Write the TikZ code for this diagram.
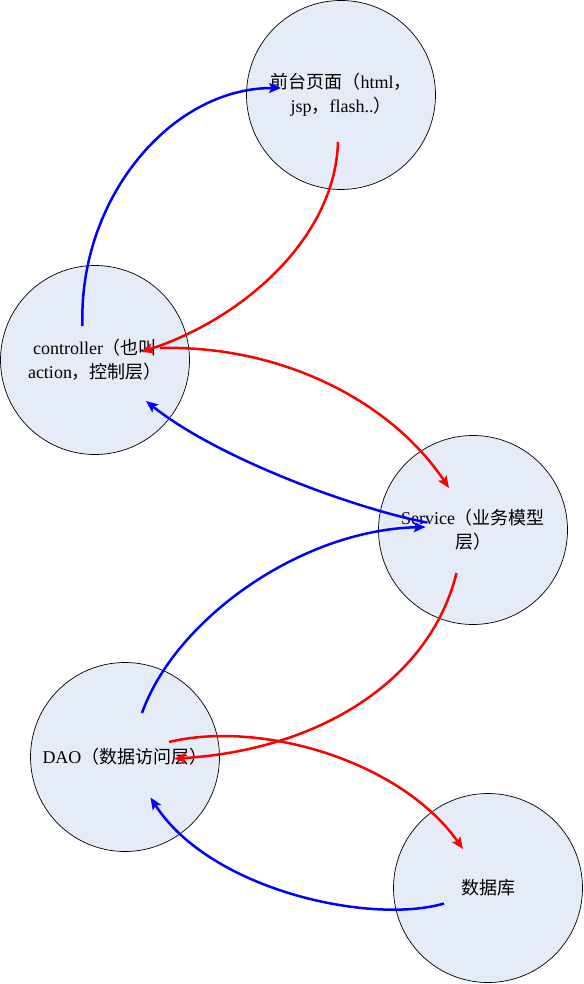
\documentclass[tikz,border=0pt]{standalone}
\usepackage{fontspec}
\setmainfont{Liberation Serif}
\newfontfamily\cjk{Noto Sans CJK SC}
\newcommand{\zh}[1]{{\cjk #1}}
\usetikzlibrary{arrows.meta}
\definecolor{tierfill}{RGB}{230,236,247}
\begin{document}
\begin{tikzpicture}[x=1pt,y=-1pt,
  tier/.style={circle,draw=black,line width=0.7pt,fill=tierfill,minimum size=189pt,inner sep=0pt,align=center,font=\fontsize{18}{24}\selectfont},
  req/.style={blue,line width=2.5pt,-{Stealth[length=12pt,width=10pt,inset=2.5pt]}},
  resp/.style={red,line width=2.5pt,-{Stealth[length=12pt,width=10pt,inset=2.5pt]}}]
  \useasboundingbox (0,0) rectangle (583,984);
  \node[tier] (front) at (341,95) {\zh{前台页面（}html\zh{，}\\jsp\zh{，}flash..\zh{）}};
  \node[tier] (ctrl) at (95,360) {controller\zh{（也叫}\\action\zh{，控制层）}};
  \node[tier] (svc) at (473,530) {Service\zh{（业务模型}\\\zh{层）}};
  \node[tier] (dao) at (125,757) {DAO\zh{（数据访问层）}};
  \node[tier] (db) at (488,888) {\zh{数据库}};
  \draw[req] ([shift={(-12.5,-34)}]ctrl.center) .. controls +(-4.5,-126) and +(-111,0) .. ([shift={(-60,-7)}]front.center);
  \draw[resp] ([shift={(-3,47)}]front.center) .. controls +(-3,98) and +(99,-32) .. ([shift={(46,-8)}]ctrl.center);
  \draw[resp] ([shift={(65,-12)}]ctrl.center) .. controls +(120,-3) and +(-59,-88) .. ([shift={(-24,-42)}]svc.center);
  \draw[req] ([shift={(-45.5,-7.4)}]svc.center) .. controls +(-67.5,-12.6) and +(74,59) .. ([shift={(51,41)}]ctrl.center);
  \draw[req] ([shift={(17,-44)}]dao.center) .. controls +(33,-93) and +(-125.6,3) .. ([shift={(-47.4,-3)}]svc.center);
  \draw[resp] ([shift={(-16.5,43)}]svc.center) .. controls +(-26.5,107) and +(146,-8.6) .. ([shift={(49,1.6)}]dao.center);
  \draw[resp] ([shift={(44,-15)}]dao.center) .. controls +(91,-22) and +(-63,-89) .. ([shift={(-25,-39)}]db.center);
  \draw[req] ([shift={(-44,15.5)}]db.center) .. controls +(-74,21.5) and +(59.5,92.5) .. ([shift={(25.5,40.5)}]dao.center);
\end{tikzpicture}
\end{document}
